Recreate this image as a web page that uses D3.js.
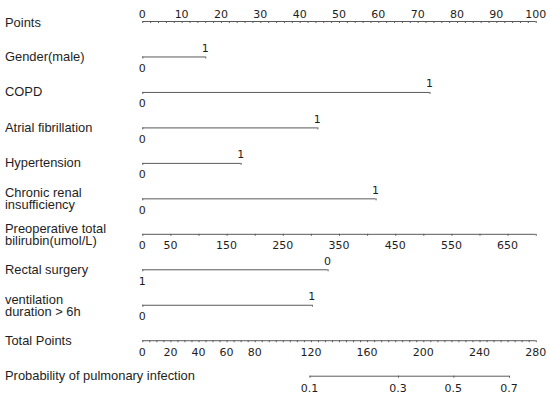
<!DOCTYPE html>
<html>
<head>
<meta charset="utf-8">
<script src="https://cdn.jsdelivr.net/npm/d3@7"></script>
<style>
  body { margin: 0; background: #fff; }
  .lbl { font-family: "Liberation Sans", Arial, sans-serif; font-size: 12.9px; fill: #1e1e1e; }
  .tk text { font-family: "DejaVu Sans", sans-serif; font-size: 11px; fill: #1e1e1e; }
</style>
</head>
<body>
<svg width="550" height="398"></svg>
<script>
// rows, top to bottom
const rowNames = ['Points', 'Gender', 'COPD', 'AF', 'Hypertension', 'CRI', 'Bilirubin', 'Rectal', 'Ventilation', 'Total', 'Prob']
const rowLabels = [
  ['Points'],
  ['Gender(male)'],
  ['COPD'],
  ['Atrial fibrillation'],
  ['Hypertension'],
  ['Chronic renal', 'insufficiency'],
  ['Preoperative total', 'bilirubin(umol/L)'],
  ['Rectal surgery'],
  ['ventilation', 'duration > 6h'],
  ['Total Points'],
  ['Probability of pulmonary infection']
]

// binary predictors: level labels and their points
const binaryRows = ['Gender', 'COPD', 'AF', 'Hypertension', 'CRI', 'Rectal', 'Ventilation']
const binaryLevels = [['0','1'], ['0','1'], ['0','1'], ['0','1'], ['0','1'], ['1','0'], ['0','1']]
const binaryPoints = [[0,16], [0,73], [0,44.5], [0,25], [0,59.3], [0,47.1], [0,43.1]]

// points axis
const pointsTicks = d3.range(0, 101, 10)
const pointsMinor = d3.range(0, 101, 2)

// bilirubin axis (700 umol/L = 100 points)
const biliRange = [0, 700]
const biliMinor = d3.range(0, 701, 50)
const biliLabels = [0, 50, 150, 250, 350, 450, 550, 650]

// total points axis
const totalRange = [0, 280]
const totalMinor = d3.range(0, 281, 5)
const totalLabels = [0, 20, 40, 60, 80, 120, 160, 200, 240, 280]

// probability axis: ticks and the total points where they sit
const probTicks = [0.1, 0.3, 0.5, 0.7]
const probTotals = [119, 182, 221.4, 261]

const left = 142.3, right = 535.7
const svg = d3.select('svg')

const x = d3.scaleLinear().domain([0, 100]).range([left, right])
const xTotal = d3.scaleLinear().domain(totalRange).range([left, right])
const xBili = d3.scaleLinear().domain(biliRange).range([left, right])
const y = d3.scalePoint().domain(rowNames).range([21, 375.7])

const lineColor = '#5a5a5a'

// row labels
rowLabels.forEach((lines, i) => {
  const yy = y(rowNames[i])
  const first = lines.length > 1 ? yy - 1 : yy + 4.5 + (i === 0 ? 1.5 : 0)
  const t = svg.append('text').attr('class', 'lbl').attr('x', 5).attr('y', first)
  lines.forEach((s, j) => {
    t.append('tspan').attr('x', 5).attr('dy', j === 0 ? 0 : 11.8).text(s)
  })
})

// helper: line between first and last value, ticks hanging down 2px
function tickLine(scale, values, row, size) {
  const g = svg.append('g')
     .attr('class', 'tk')
     .attr('color', lineColor)
     .attr('transform', `translate(0, ${y(row)})`)
     .call(d3.axisBottom(scale).tickValues(values).tickSize(size).tickFormat(''))
  g.select('.domain').remove()
  const ext = d3.extent(values)
  g.append('line')
   .attr('x1', scale(ext[0]))
   .attr('x2', scale(ext[1]))
   .attr('y1', 0.5)
   .attr('y2', 0.5)
   .attr('stroke', lineColor)
}

// helper: labels only
function tickText(scale, values, row, dyy, fmt) {
  svg.append('g')
     .attr('class', 'tk')
     .selectAll('text')
     .data(values)
     .join('text')
     .attr('x', d => scale(d))
     .attr('y', y(row) + dyy)
     .attr('text-anchor', 'middle')
     .text(fmt || (d => d))
}

// Points
tickLine(x, pointsMinor, 'Points', 2)
tickText(x, pointsTicks, 'Points', -3.5)

// binary predictors
binaryRows.forEach((row, i) => {
  const pts = binaryPoints[i]
  tickLine(x, pts, row, 2)
  const lv = binaryLevels[i]
  tickText(x, [pts[0]], row, 15.4, () => lv[0])
  tickText(x, [pts[1]], row, -4.6, () => lv[1])
})

// bilirubin
tickLine(xBili, biliMinor, 'Bilirubin', 2)
tickText(xBili, biliLabels, 'Bilirubin', 15.3)

// total points
tickLine(xTotal, totalMinor, 'Total', 2)
tickText(xTotal, totalLabels, 'Total', 15.8)

// probability
const probPos = probTicks.map((p, i) => xTotal(probTotals[i]))
tickLine(xTotal, probTotals, 'Prob', 2)
svg.append('g')
   .attr('class', 'tk')
   .selectAll('text')
   .data(probTicks)
   .join('text')
   .attr('x', (d, i) => probPos[i])
   .attr('y', y('Prob') + 15.8)
   .attr('text-anchor', 'middle')
   .text(d => d)
</script>
</body>
</html>
